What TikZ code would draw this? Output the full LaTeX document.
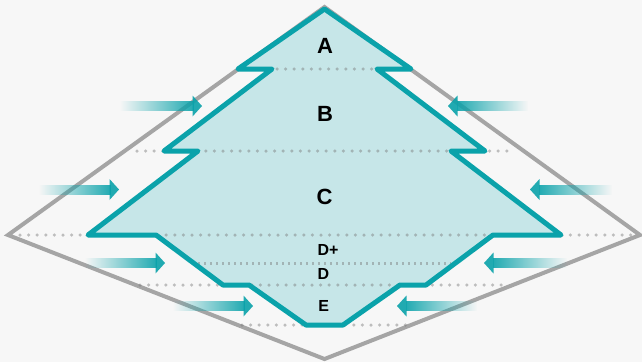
\documentclass[tikz,border=0pt]{standalone}
\usepackage{fontspec}
\setmainfont{Liberation Sans}
\usetikzlibrary{fadings}

\definecolor{bgcol}{HTML}{F7F7F7}
\definecolor{tealline}{HTML}{0AA2AA}
\definecolor{tealfill}{HTML}{C6E6E8}
\definecolor{framegrey}{HTML}{A5A5A5}
\definecolor{dotgrey}{HTML}{787878}

% shafts fade in towards the arrow head
\tikzfading[name=fadetoright, left color=transparent!100, right color=transparent!10]
\tikzfading[name=fadetoleft, left color=transparent!10, right color=transparent!100]

\tikzset{
  frameline/.style={draw=framegrey, line width=4pt, line join=miter},
  zone/.style={fill=tealfill, draw=tealline, line width=5pt, line join=round},
  dotrow/.style={draw=dotgrey, draw opacity=0.45, line width=3.5pt, line cap=round,
                 dash pattern=on 0pt off 8.6pt},
  finedots/.style={draw=dotgrey, draw opacity=0.45, line width=2.2pt,
                 dash pattern=on 2.2pt off 3.8pt},
  zlabel/.style={font=\bfseries\fontsize{22}{22}\selectfont, anchor=base, inner sep=0pt},
  zlabelsmall/.style={font=\bfseries\fontsize{16}{16}\selectfont, anchor=base, inner sep=0pt},
  headfill/.style={fill=tealline, fill opacity=0.9},
}

% arrow pointing right: start x, tip x, y
\newcommand\inflowright[3]{%
  \fill[tealline, path fading=fadetoright] (#1,#3-5) rectangle (#2-8.5,#3+5);
  \fill[headfill] (#2-9.5,#3-10.5) -- (#2,#3) -- (#2-9.5,#3+10.5) -- cycle;}
% arrow pointing left: tip x, end x, y
\newcommand\inflowleft[3]{%
  \fill[tealline, path fading=fadetoleft] (#1+8.5,#3-5) rectangle (#2,#3+5);
  \fill[headfill] (#1+9.5,#3-10.5) -- (#1,#3) -- (#1+9.5,#3+10.5) -- cycle;}

\begin{document}
\begin{tikzpicture}[x=1pt, y=-1pt]
  \fill[bgcol] (0,0) rectangle (642,362);
  \useasboundingbox (0,0) rectangle (642,362);

  % outer grey diamond
  \draw[frameline] (324.5,7) -- (640,235) -- (324.5,359) -- (8,235) -- cycle;

  % stepped teal zone, fill first
  \path[zone, draw=none]
    (324.5,9) -- (238,69) -- (272,69) -- (164,151) -- (198,151) -- (88,235)
    -- (156,235) -- (223,285) -- (249,285) -- (306,325) -- (343,325)
    -- (400,285) -- (426,285) -- (493,235) -- (561,235) -- (451,151)
    -- (485,151) -- (377,69) -- (411,69) -- cycle;

  % level separators
  \draw[dotrow] (277,69) -- (373,69);
  \draw[dotrow] (137,151) -- (513,151);
  \draw[dotrow] (20,235) -- (631,235);
  \draw[finedots] (198,263.5) -- (451,263.5);
  \draw[dotrow] (140,285) -- (509,285);
  \draw[dotrow] (242,325) -- (408,325);

  % teal outline on top of the separators
  \draw[zone, fill=none]
    (324.5,9) -- (238,69) -- (272,69) -- (164,151) -- (198,151) -- (88,235)
    -- (156,235) -- (223,285) -- (249,285) -- (306,325) -- (343,325)
    -- (400,285) -- (426,285) -- (493,235) -- (561,235) -- (451,151)
    -- (485,151) -- (377,69) -- (411,69) -- cycle;

  % inflow arrows, left side
  \inflowright{120}{202}{106}
  \inflowright{39}{119}{189.5}
  \inflowright{85}{165}{263}
  \inflowright{173}{253}{306}
  % inflow arrows, right side
  \inflowleft{448}{528}{106}
  \inflowleft{530}{612}{189.5}
  \inflowleft{484}{567}{263}
  \inflowleft{397}{477}{306}

  % zone labels
  \node[zlabel] (la) at (325,53) {A};
  \node[zlabel] (lb) at (325,121) {B};
  \node[zlabel] (lc) at (324.5,204) {C};
  \node[zlabelsmall] (ldp) at (328,255.5) {D+};
  \node[zlabelsmall] (ld) at (323.5,279) {D};
  \node[zlabelsmall] (le) at (323.6,311.5) {E};
\end{tikzpicture}
\end{document}
